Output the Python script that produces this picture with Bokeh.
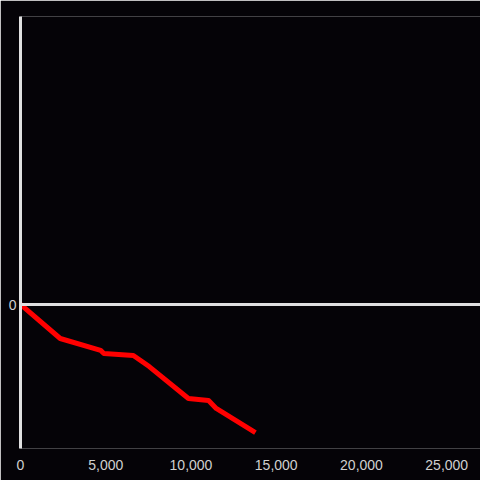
from bokeh.plotting import figure
from bokeh.models import FixedTicker, NumeralTickFormatter, Span, Range1d
from bokeh.embed import file_html
from bokeh.resources import INLINE

x_vals = [0, 2330, 4700, 4890, 6620, 7550, 9850, 11030, 11480, 13780]
y_vals = [0, -0.236, -0.319, -0.340, -0.354, -0.431, -0.653, -0.667, -0.722, -0.889]
x_ticks = [0, 5000, 10000, 15000, 20000, 25000]
y_ticks = [0]

BG = "#050307"
AX = "#e0e0e0"

p = figure(width=480, height=480, output_backend="svg", toolbar_location=None,
           x_range=Range1d(0, 26980), y_range=Range1d(-1, 2),
           background_fill_color=BG, border_fill_color=BG,
           min_border_left=20, min_border_right=0, min_border_top=16, min_border_bottom=32)
p.outline_line_color = None
p.grid.visible = False

p.xaxis.ticker = FixedTicker(ticks=x_ticks)
p.xaxis.formatter = NumeralTickFormatter(format="0,0")
p.xaxis.axis_line_color = None
p.xaxis.major_tick_line_color = None
p.xaxis.minor_tick_line_color = None
p.xaxis.major_label_standoff = 5
p.xaxis.major_label_text_color = "#d0d0d0"
p.xaxis.major_label_text_font = "Liberation Sans"
p.xaxis.major_label_text_font_size = "14px"

p.yaxis.ticker = FixedTicker(ticks=y_ticks)
p.yaxis.axis_line_color = AX
p.yaxis.axis_line_width = 3
p.yaxis.major_tick_line_color = None
p.yaxis.minor_tick_line_color = None
p.yaxis.major_tick_out = 0
p.yaxis.major_tick_in = 0
p.yaxis.major_label_standoff = 4
p.yaxis.major_label_text_color = "#d0d0d0"
p.yaxis.major_label_text_font = "Liberation Sans"
p.yaxis.major_label_text_font_size = "14px"

p.add_layout(Span(location=0, dimension="width", line_color=AX, line_width=3))
p.line(x_vals, y_vals, line_color="#ff0000", line_width=5, line_join="round")

open("out.html", "w").write(file_html(p, INLINE))
